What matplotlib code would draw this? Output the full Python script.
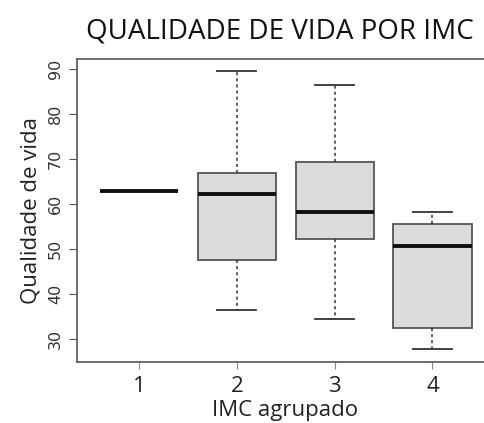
import matplotlib
matplotlib.use("Agg")
import matplotlib.pyplot as plt

# valores (qualidade de vida por grupo de IMC)
grupos = ["1", "2", "3", "4"]
whislo = [63.0, 36.4, 34.3, 27.6]
q1 = [63.0, 47.5, 52.3, 32.3]
med = [63.0, 62.2, 58.3, 50.7]
q3 = [63.0, 66.8, 69.4, 55.5]
whishi = [63.0, 89.7, 86.4, 58.2]

plt.rcParams['font.family'] = ['Open Sans', 'DejaVu Sans']

fig = plt.figure(figsize=(4.84, 4.23), dpi=100)
ax = fig.add_axes([77 / 484, 61 / 423, 417 / 484, 303 / 423])

stats = []
for i in range(len(grupos)):
    stats.append({'label': grupos[i], 'whislo': whislo[i], 'q1': q1[i], 'med': med[i],
                  'q3': q3[i], 'whishi': whishi[i], 'fliers': []})

ax.bxp(stats, positions=[1, 2, 3, 4], widths=0.8, patch_artist=True, showfliers=False,
       boxprops=dict(facecolor='#dcdcdc', edgecolor='#555555', linewidth=1.3),
       medianprops=dict(color='#111111', linewidth=2.8),
       whiskerprops=dict(color='#333333', linewidth=1.1, linestyle=(0, (2, 2))),
       capprops=dict(color='#333333', linewidth=1.3), capwidths=0.4)

ax.set_xlim(0.365, 4.63)
ax.set_ylim(24.8, 92.3)
ax.set_yticks([30, 40, 50, 60, 70, 80, 90])
ax.set_yticklabels(['30', '40', '50', '60', '70', '80', '90'], rotation=90, va='center',
                   fontsize=11.5, color='#333333', family=['DejaVu Sans'])
ax.set_xticks([1, 2, 3, 4])
ax.set_xticklabels(grupos, fontsize=16, color='#222222')
ax.tick_params(axis='y', length=6, color='#555555', pad=4)
ax.tick_params(axis='x', length=5, color='#888888', pad=5)
for s in ax.spines.values():
    s.set_color('#555555')
    s.set_linewidth(1.2)
ax.spines['right'].set_visible(False)

ax.set_ylabel('Qualidade de vida', fontsize=16, color='#222222', labelpad=5)
ax.set_xlabel('IMC agrupado', fontsize=16, color='#222222', labelpad=2)
fig.text(0.578, 0.925, 'QUALIDADE DE VIDA POR IMC', fontsize=20, ha='center', va='center',
         color='#111111')

fig.savefig('out.png', dpi=100)
